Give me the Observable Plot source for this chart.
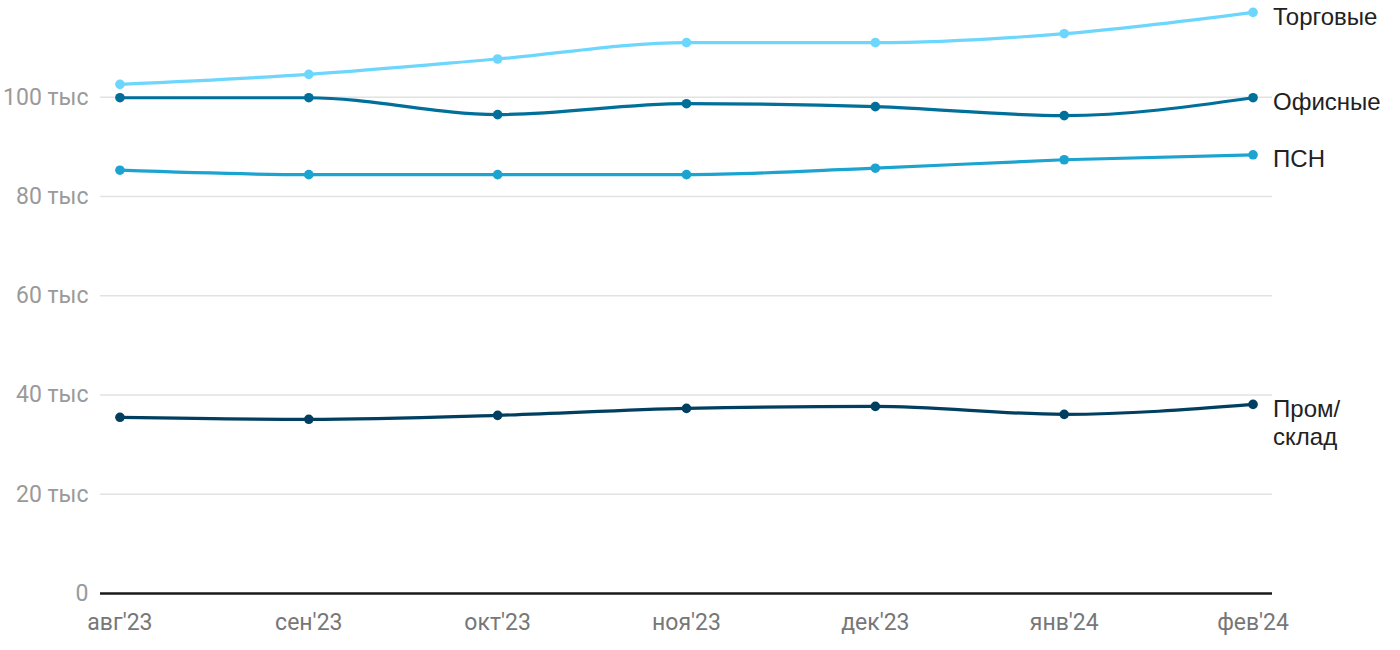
<!DOCTYPE html>
<html>
<head>
<meta charset="utf-8">
<script src="https://cdn.jsdelivr.net/npm/d3@7"></script>
<script src="https://cdn.jsdelivr.net/npm/@observablehq/plot@0.6"></script>
<style>
  html, body { margin: 0; padding: 0; background: #fff; }
  #chart svg { display: block; }
</style>
</head>
<body>
<div id="chart"></div>
<script>
// Data (values in thousands)
const months = ["авг'23", "сен'23", "окт'23", "ноя'23", "дек'23", "янв'24", "фев'24"];
const seriesNames = ["Торговые", "Офисные", "ПСН", "Пром/\nсклад"];
const trade = [102.6, 104.6, 107.7, 111.0, 111.0, 112.8, 117.1];
const office = [99.9, 99.9, 96.5, 98.7, 98.1, 96.3, 99.9];
const psn = [85.3, 84.4, 84.4, 84.4, 85.7, 87.4, 88.4];
const industrial = [35.5, 35.1, 35.9, 37.3, 37.7, 36.1, 38.1];
const colors = ["#6dd6fd", "#006f99", "#1ca4d1", "#003f60"];
const yTicks = [0, 20, 40, 60, 80, 100];

const valuesList = [trade, office, psn, industrial];
const rows = [];
seriesNames.forEach((name, s) => {
  valuesList[s].forEach((v, i) => rows.push({series: name, month: months[i], value: v}));
});
const last = seriesNames.map((name, s) => ({series: name, month: months[months.length - 1], value: valuesList[s][months.length - 1]}));

const chart = Plot.plot({
  width: 1400,
  height: 650,
  marginLeft: 100,
  marginRight: 128,
  marginTop: 7.4,
  marginBottom: 57,
  style: {fontFamily: "Roboto, sans-serif", fontSize: "23px", background: "#fff"},
  x: {type: "point", domain: months, padding: 0.103, round: false},
  y: {domain: [0, 118]},
  color: {domain: seriesNames, range: colors},
  marks: [
    Plot.ruleY(yTicks.filter(d => d > 0), {stroke: "#e2e2e2", strokeWidth: 1.5}),
    Plot.ruleY([0], {stroke: "#1a1a1a", strokeWidth: 2.5}),
    Plot.axisY({
      ticks: yTicks,
      tickSize: 0,
      tickPadding: 12,
      fill: "#9a9a9a",
      fontSize: 23,
      tickFormat: d => d === 0 ? "0" : `${d} тыс`,
      label: null
    }),
    Plot.axisX({
      tickSize: 0,
      tickPadding: 20,
      fill: "#777",
      fontSize: 23,
      label: null
    }),
    Plot.line(rows, {x: "month", y: "value", z: "series", stroke: "series", strokeWidth: 3.2, curve: "monotone-x"}),
    Plot.dot(rows, {x: "month", y: "value", fill: "series", r: 4.8}),
    Plot.text(last, {
      x: "month", y: "value", text: "series",
      textAnchor: "start", lineAnchor: "top",
      dx: 20, dy: -7.5,
      fontSize: 24, lineHeight: 1.18,
      fontFamily: "Liberation Sans, Arial, sans-serif",
      fill: "#222"
    })
  ]
});
document.getElementById("chart").appendChild(chart);
</script>
</body>
</html>
